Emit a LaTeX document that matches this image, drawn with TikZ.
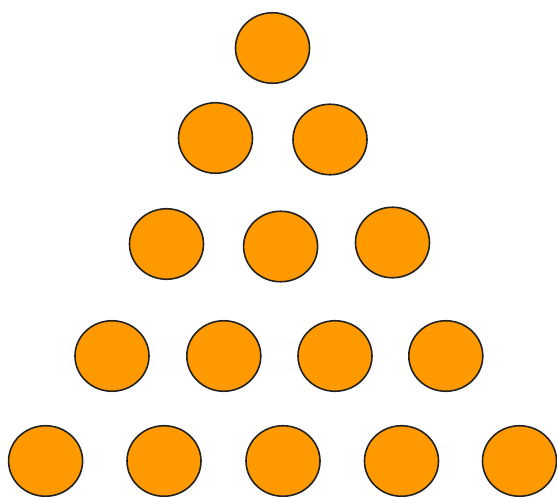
\documentclass[tikz,border=0pt]{standalone}
\usetikzlibrary{shapes.geometric}
\definecolor{ballorange}{HTML}{FF9900}
\definecolor{ballline}{HTML}{222222}
\begin{document}
\begin{tikzpicture}[x=1pt,y=-1pt,
  ball/.style={ellipse, draw=ballline, fill=ballorange, line width=1.6pt,
    inner sep=0pt, minimum width=74pt, minimum height=70.5pt}]
\useasboundingbox (0,0) rectangle (557,497);
% row 1
\node[ball] (a1) at (272.5,48) {};
% row 2
\node[ball] (b1) at (215.5,138) {};
\node[ball] (b2) at (330,139.5) {};
% row 3
\node[ball] (c1) at (166.5,244) {};
\node[ball] (c2) at (280.6,246.5) {};
\node[ball] (c3) at (392.5,242.5) {};
% row 4
\node[ball] (d1) at (112,356) {};
\node[ball] (d2) at (223.8,356) {};
\node[ball] (d3) at (335,356) {};
\node[ball] (d4) at (445.8,356) {};
% row 5
\node[ball] (e1) at (45.6,461) {};
\node[ball] (e2) at (164,461) {};
\node[ball] (e3) at (283,461) {};
\node[ball] (e4) at (401.5,461) {};
\node[ball] (e5) at (519.5,461) {};
\end{tikzpicture}
\end{document}
